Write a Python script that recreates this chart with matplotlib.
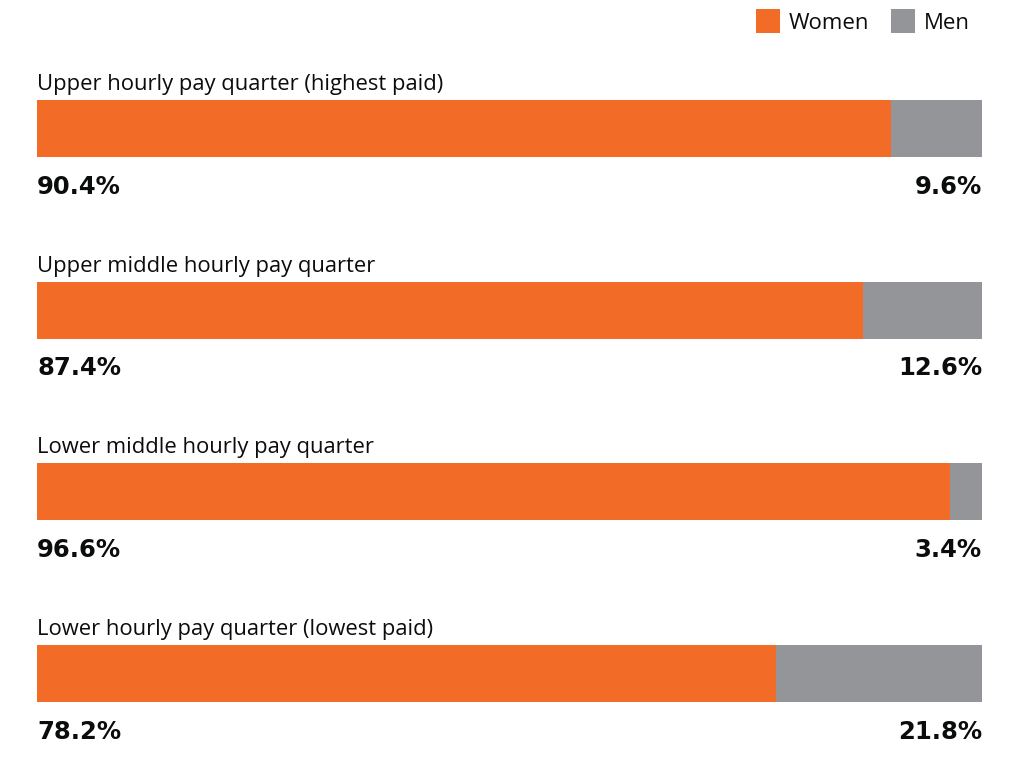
import matplotlib
matplotlib.use("Agg")
import matplotlib.pyplot as plt
from matplotlib.lines import Line2D

categories = [
    "Upper hourly pay quarter (highest paid)",
    "Upper middle hourly pay quarter",
    "Lower middle hourly pay quarter",
    "Lower hourly pay quarter (lowest paid)",
]
women = [90.4, 87.4, 96.6, 78.2]
men = [9.6, 12.6, 3.4, 21.8]

ORANGE = "#F36C27"
GREY = "#939598"
TEXT = "#0B0C0C"

W, H = 1016, 781
fig = plt.figure(figsize=(W / 100, H / 100), dpi=100)
ax = fig.add_axes([0, 0, 1, 1])

left_px, right_px = 37, 982
scale = (right_px - left_px) / 100.0
ax.set_xlim(-left_px / scale, (W - left_px) / scale)

spacing = 181.7
top_center = 128.5
ax.set_ylim((H - top_center) / spacing, -top_center / spacing)
bar_h = 57 / spacing

ys = list(range(len(categories)))
ax.barh(ys, women, height=bar_h, color=ORANGE, left=0, linewidth=0)
ax.barh(ys, men, height=bar_h, color=GREY, left=women, linewidth=0)

for y, cat, w, m in zip(ys, categories, women, men):
    ax.text(0, y - 44 / spacing, cat, ha="left", va="center",
            fontsize=15.8, color=TEXT, family="Open Sans")
    ax.text(0, y + 58 / spacing, f"{w:.1f}%", ha="left", va="center",
            fontsize=17.5, fontweight="bold", color=TEXT, family="DejaVu Sans")
    ax.text(100, y + 58 / spacing, f"{m:.1f}%", ha="right", va="center",
            fontsize=17.5, fontweight="bold", color=TEXT, family="DejaVu Sans")

handles = [
    Line2D([], [], marker="s", linestyle="none", markersize=17,
           markerfacecolor=ORANGE, markeredgewidth=0, label="Women"),
    Line2D([], [], marker="s", linestyle="none", markersize=17,
           markerfacecolor=GREY, markeredgewidth=0, label="Men"),
]
fig.legend(handles=handles, loc="upper right", bbox_to_anchor=(990 / W, 1 + 7 / H),
           ncol=2, frameon=False, prop={"family": "Open Sans", "size": 16},
           handletextpad=0.35, columnspacing=0.9, handlelength=1.2,
           labelcolor=TEXT)

ax.axis("off")
fig.savefig("out.png", dpi=100, facecolor="white")
